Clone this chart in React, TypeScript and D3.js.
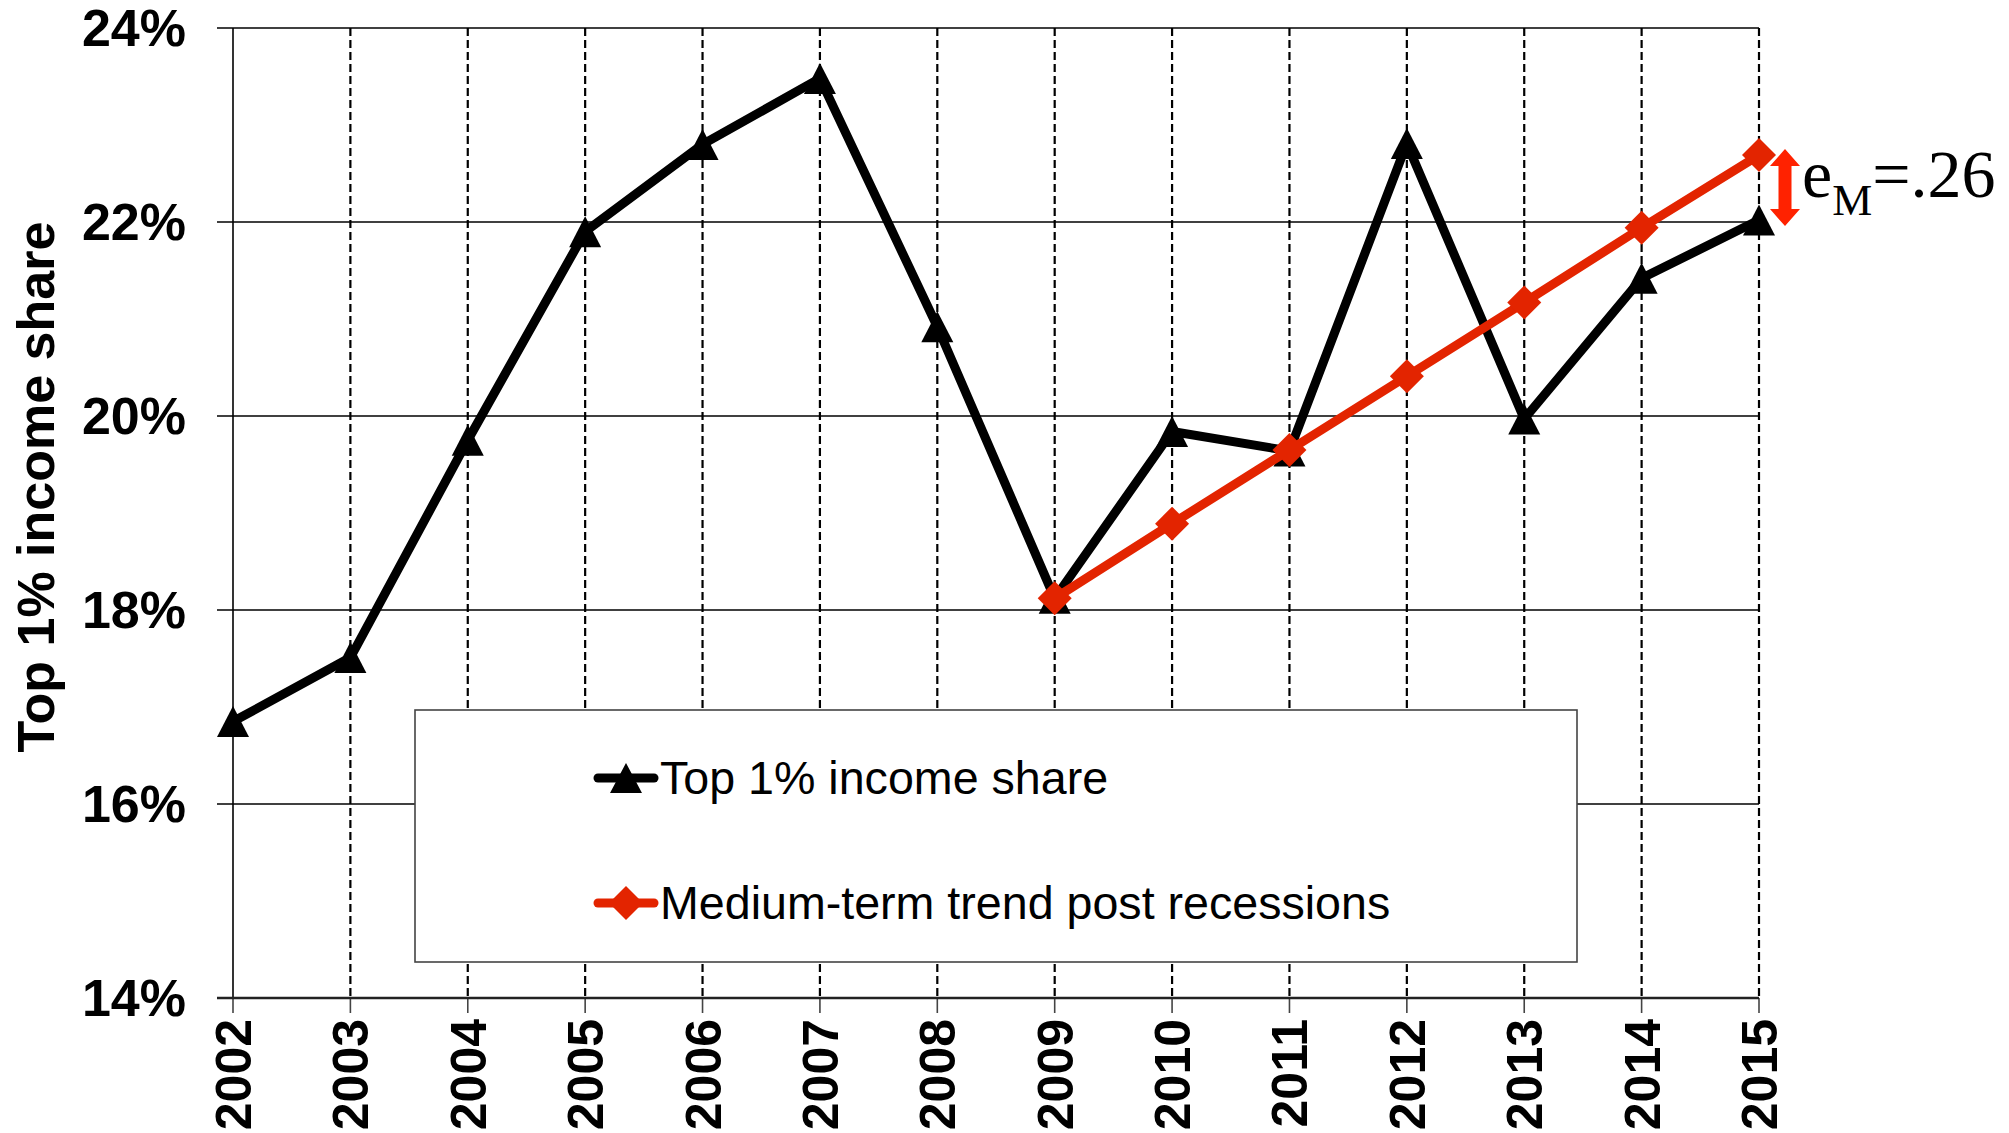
import React, { useEffect, useRef } from 'react';
import * as d3 from 'd3';

// Data
const years = [2002, 2003, 2004, 2005, 2006, 2007, 2008, 2009, 2010, 2011, 2012, 2013, 2014, 2015];
const topShare = [16.85, 17.51, 19.75, 21.9, 22.8, 23.48, 20.92, 18.12, 19.84, 19.64, 22.81, 19.97, 21.42, 22.02];
const trendYears = [2009, 2010, 2011, 2012, 2013, 2014, 2015];
const trendShare = [18.12, 18.89, 19.65, 20.41, 21.17, 21.94, 22.69];
const yTicks = [14, 16, 18, 20, 22, 24];
const seriesNames = ['Top 1% income share', 'Medium-term trend post recessions'];
const yTitle = 'Top 1% income share';
const annotation = { base: 'e', sub: 'M', rest: '=.26' };

const RED = '#e32400';
const SANS = '"Liberation Sans", Arial, sans-serif';
const SERIF = '"Liberation Serif", "Times New Roman", serif';

export default function App() {
  const svgRef = useRef<SVGSVGElement>(null);

  useEffect(() => {
    document.body.style.margin = '0';
    const svg = d3.select(svgRef.current);
    svg.selectAll('*').remove();

    const x = d3.scaleLinear().domain([2002, 2015]).range([233, 1759]);
    const y = d3.scaleLinear().domain([14, 24]).range([998, 28]);

    // horizontal gridlines
    svg.append('g')
      .selectAll('line')
      .data(yTicks)
      .join('line')
      .attr('x1', 217).attr('x2', x(2015))
      .attr('y1', d => y(d)).attr('y2', d => y(d))
      .style('stroke', '#000')
      .style('stroke-width', 1.4);

    // vertical dashed gridlines
    svg.append('g')
      .selectAll('line')
      .data(years.slice(1))
      .join('line')
      .attr('x1', d => x(d)).attr('x2', d => x(d))
      .attr('y1', y(24)).attr('y2', y(14))
      .style('stroke', '#000')
      .style('stroke-width', 2.2)
      .style('stroke-dasharray', '8,4');

    // x tick marks
    svg.append('g')
      .selectAll('line')
      .data(years)
      .join('line')
      .attr('x1', d => x(d)).attr('x2', d => x(d))
      .attr('y1', y(14)).attr('y2', y(14) + 15)
      .style('stroke', '#444')
      .style('stroke-width', 1.6);

    // axes
    svg.append('line')
      .attr('x1', x(2002)).attr('x2', x(2002))
      .attr('y1', y(24)).attr('y2', y(14))
      .style('stroke', '#000').style('stroke-width', 1.6);
    svg.append('line')
      .attr('x1', 217).attr('x2', x(2015))
      .attr('y1', y(14)).attr('y2', y(14))
      .style('stroke', '#222').style('stroke-width', 2.6);

    // y tick labels
    svg.append('g')
      .selectAll('text')
      .data(yTicks)
      .join('text')
      .attr('x', 186)
      .attr('y', d => y(d) + 18)
      .attr('text-anchor', 'end')
      .style('font-family', SANS)
      .style('font-weight', 'bold')
      .style('font-size', '52px')
      .text(d => `${d}%`);

    // x tick labels (rotated)
    svg.append('g')
      .selectAll('text')
      .data(years)
      .join('text')
      .attr('transform', d => `translate(${x(d) + 18},1019) rotate(-90)`)
      .attr('text-anchor', 'end')
      .style('font-family', SANS)
      .style('font-weight', 'bold')
      .style('font-size', '50px')
      .text(d => d);

    // y title
    svg.append('text')
      .attr('transform', 'translate(54,487) rotate(-90)')
      .attr('text-anchor', 'middle')
      .style('font-family', SANS)
      .style('font-weight', 'bold')
      .style('font-size', '52px')
      .text(yTitle);

    // legend box
    const lg = svg.append('g');
    lg.append('rect')
      .attr('x', 415).attr('y', 710)
      .attr('width', 1162).attr('height', 252)
      .style('fill', '#fff')
      .style('stroke', '#444')
      .style('stroke-width', 1.6);

    const tri = (w: number, h: number) => `M0,${-h / 2}L${w / 2},${h / 2}L${-w / 2},${h / 2}Z`;
    const dia = (s: number) => `M0,${-s}L${s},0L0,${s}L${-s},0Z`;

    const legendRows = [778, 903];
    legendRows.forEach((ly, i) => {
      lg.append('line')
        .attr('x1', 598).attr('x2', 654)
        .attr('y1', ly).attr('y2', ly)
        .style('stroke', i === 0 ? '#000' : RED)
        .style('stroke-width', 9)
        .style('stroke-linecap', 'round');
      lg.append('path')
        .attr('transform', `translate(626,${ly})`)
        .attr('d', i === 0 ? tri(32, 30) : dia(17))
        .style('fill', i === 0 ? '#000' : RED);
      lg.append('text')
        .attr('x', 660).attr('y', ly + 16)
        .style('font-family', SANS)
        .style('font-size', '46.6px')
        .text(seriesNames[i]);
    });

    // black series
    const blackData = years.map((yr, i) => ({ yr, v: topShare[i] }));
    const line = d3.line<{ yr: number; v: number }>()
      .x(d => x(d.yr))
      .y(d => y(d.v));

    svg.append('path')
      .datum(blackData)
      .attr('d', line)
      .style('fill', 'none')
      .style('stroke', '#000')
      .style('stroke-width', 9)
      .style('stroke-linejoin', 'round');

    svg.append('g')
      .selectAll('path')
      .data(blackData)
      .join('path')
      .attr('transform', d => `translate(${x(d.yr)},${y(d.v)})`)
      .attr('d', tri(32, 31))
      .style('fill', '#000');

    // red trend series
    const redData = trendYears.map((yr, i) => ({ yr, v: trendShare[i] }));
    svg.append('path')
      .datum(redData)
      .attr('d', line)
      .style('fill', 'none')
      .style('stroke', RED)
      .style('stroke-width', 9)
      .style('stroke-linejoin', 'round');

    svg.append('g')
      .selectAll('path')
      .data(redData)
      .join('path')
      .attr('transform', d => `translate(${x(d.yr)},${y(d.v)})`)
      .attr('d', dia(17))
      .style('fill', RED);

    // gap arrow between trend and actual at 2015
    const ax = 1785;
    const yTop = y(trendShare[trendShare.length - 1]) - 6;
    const yBot = y(topShare[topShare.length - 1]) + 6;
    const hw = 15, hh = 17, sw = 6.5;
    svg.append('path')
      .attr('d',
        `M${ax},${yTop}L${ax + hw},${yTop + hh}L${ax + sw},${yTop + hh}` +
        `L${ax + sw},${yBot - hh}L${ax + hw},${yBot - hh}L${ax},${yBot}` +
        `L${ax - hw},${yBot - hh}L${ax - sw},${yBot - hh}L${ax - sw},${yTop + hh}` +
        `L${ax - hw},${yTop + hh}Z`)
      .style('fill', '#ff2200');

    const t = svg.append('text')
      .attr('x', 1802).attr('y', 197)
      .style('font-family', SERIF)
      .style('font-size', '68px');
    t.append('tspan').text(annotation.base);
    t.append('tspan')
      .attr('dy', 18)
      .style('font-size', '45px')
      .text(annotation.sub);
    t.append('tspan')
      .attr('dy', -18)
      .text(annotation.rest);
  }, []);

  return (
    <svg
      ref={svgRef}
      width={2009}
      height={1133}
      style={{ display: 'block', position: 'absolute', left: 0, top: 0, background: '#fff' }}
    />
  );
}
